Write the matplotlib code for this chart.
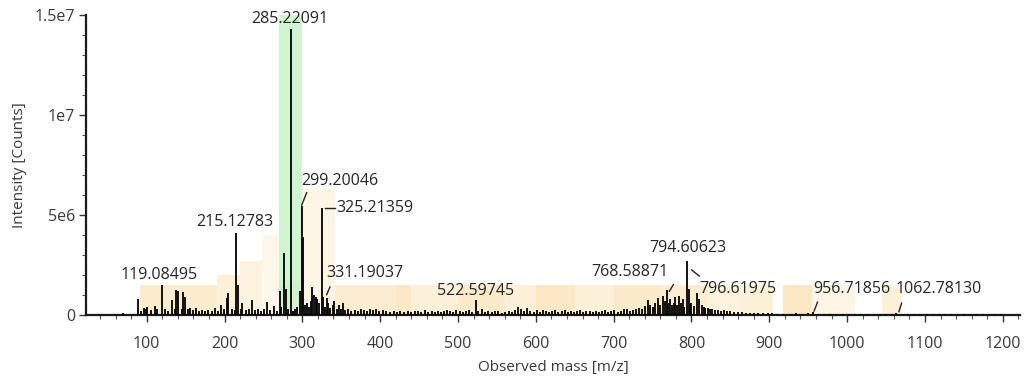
import numpy as np
import matplotlib.pyplot as plt
from matplotlib.ticker import MultipleLocator, FixedLocator

plt.rcParams['font.family'] = ['Open Sans', 'DejaVu Sans']

# stick spectrum (m/z, intensity in 1e6 counts)
peak_mz = [70, 89, 93, 96, 99, 101, 105, 110, 113, 119.08, 123, 127, 132, 136, 138, 140,
           145, 147, 149, 153, 155, 159, 163, 167, 171, 175, 179, 184, 188, 191, 196, 199,
           203, 205, 209, 213, 215.13, 217.5, 221, 223, 227, 231, 235, 239, 243, 247, 251,
           254, 258, 263, 267, 271, 273, 277, 279, 282, 285.22, 288, 291, 293, 297, 299.2,
           301, 303, 306, 309, 311, 313, 315, 317, 319, 322, 325.21, 327, 329, 331.19, 333,
           336, 339, 341, 344, 347, 350, 352, 355, 359, 363, 367, 371, 375, 379, 383, 387,
           391, 395, 399, 403, 408, 413, 418, 422, 426, 431, 436, 440, 445, 449, 453, 457,
           461, 466, 470, 474, 478, 482, 486, 490, 494, 498, 502, 506, 510, 514, 518, 522.6,
           526, 531, 535, 539, 544, 548, 552, 556, 560, 565, 569, 573, 577, 581, 585, 589,
           593, 597, 601, 605, 609, 613, 617, 621, 625, 629, 633, 637, 641, 645, 649, 653,
           657, 661, 665, 669, 673, 677, 681, 685, 689, 693, 697, 701, 705, 709, 713, 717,
           721, 725, 729, 733, 737, 740, 744, 747, 750, 753, 757, 760, 763, 766, 768.59, 770,
           772, 775, 777, 779, 781, 784, 786, 789, 791, 794.61, 796.62, 798, 800, 803, 807,
           810, 813, 816, 818, 821, 824, 827, 830, 834, 838, 842, 846, 850, 855, 860, 865,
           870, 875, 880, 886, 892, 898, 904, 910, 918, 926, 934, 942, 950, 956.72, 962, 970,
           978, 986, 994, 1002, 1010, 1018, 1026, 1034, 1042, 1050, 1058, 1062.78, 1070, 1078,
           1086, 1094, 1102, 1110, 1118, 1126, 1134, 1142, 1150, 1158, 1166, 1174, 1182, 1190,
           1198]
peak_int = [0.1, 0.8, 0.2, 0.35, 0.3, 0.4, 0.25, 0.45, 0.3, 1.5, 0.3, 0.2, 0.75, 0.3, 1.25, 1.2,
            0.3, 1.15, 0.9, 0.3, 0.35, 0.25, 0.35, 0.2, 0.25, 0.2, 0.25, 0.2, 0.35, 0.2, 0.5, 0.3,
            0.85, 1.1, 0.3, 0.25, 4.1, 1.5, 0.3, 0.6, 0.25, 0.3, 0.75, 0.25, 0.3, 0.2, 0.3,
            0.65, 0.25, 0.45, 0.2, 1.2, 0.4, 3.1, 1.3, 0.3, 14.3, 0.2, 0.3, 0.4, 1.2, 5.46,
            3.9, 0.5, 0.6, 0.4, 0.7, 1.4, 1.0, 0.9, 0.8, 0.6, 5.36, 0.9, 0.4, 0.85, 0.6,
            0.35, 0.5, 0.7, 0.3, 0.5, 0.3, 0.6, 0.25, 0.3, 0.2, 0.25, 0.2, 0.3, 0.25, 0.2, 0.3,
            0.25, 0.3, 0.2, 0.25, 0.2, 0.15, 0.2, 0.15, 0.2, 0.15, 0.2, 0.15, 0.2, 0.2, 0.15, 0.25,
            0.15, 0.2, 0.15, 0.2, 0.15, 0.2, 0.25, 0.2, 0.15, 0.25, 0.2, 0.15, 0.2, 0.25, 0.15, 0.75,
            0.2, 0.3, 0.15, 0.2, 0.15, 0.2, 0.2, 0.1, 0.15, 0.2, 0.15, 0.25, 0.4, 0.3, 0.2, 0.35,
            0.2, 0.15, 0.25, 0.15, 0.25, 0.2, 0.15, 0.2, 0.25, 0.15, 0.2, 0.25, 0.15, 0.2, 0.15, 0.2,
            0.25, 0.15, 0.2, 0.2, 0.15, 0.2, 0.15, 0.2, 0.25, 0.15, 0.2, 0.25, 0.15, 0.2, 0.3, 0.3,
            0.2, 0.25, 0.3, 0.35, 0.3, 0.45, 0.75, 0.5, 0.4, 0.6, 0.85, 0.5, 0.95, 0.7, 1.27, 0.6,
            0.8, 0.5, 0.6, 0.9, 0.5, 0.93, 0.6, 0.8, 0.4, 2.72, 1.3, 0.5, 0.6, 0.45, 1.1,
            0.8, 0.5, 0.4, 0.35, 0.35, 0.3, 0.3, 0.25, 0.25, 0.2, 0.25, 0.2, 0.2, 0.15, 0.15, 0.15,
            0.12, 0.12, 0.1, 0.12, 0.08, 0.1, 0.08, 0.06, 0.06, 0.05, 0.08, 0.06, 0.08, 0.15, 0.06, 0.05,
            0.06, 0.05, 0.06, 0.05, 0.05, 0.05, 0.06, 0.05, 0.05, 0.06, 0.05, 0.08, 0.05, 0.06,
            0.05, 0.05, 0.06, 0.05, 0.05, 0.06, 0.05, 0.05, 0.06, 0.05, 0.05, 0.06, 0.05, 0.04,
            0.04]

# orange background bands (m/z from, m/z to, height in 1e6, opacity)
bg_lo = [92, 190, 220, 248, 270, 300, 342, 420, 440, 500, 560, 600, 650, 700, 760, 820, 860, 918, 955, 1045]
bg_hi = [190, 220, 248, 270, 300, 342, 420, 440, 500, 560, 600, 650, 700, 760, 820, 860, 905, 955, 1010, 1070]
bg_h = [1.5, 2.0, 2.7, 4.0, 1.5, 6.3, 1.5, 1.5, 1.5, 1.5, 1.5, 1.5, 1.5, 1.5, 1.5, 1.5, 1.5, 1.5, 1.5, 1.5]
bg_a = [0.3, 0.24, 0.2, 0.12, 0.25, 0.16, 0.28, 0.36, 0.24, 0.32, 0.24, 0.36, 0.24, 0.32, 0.28, 0.2, 0.24, 0.36, 0.16, 0.24]

# highlighted window
hl_lo, hl_hi = 270, 299

# labels: text, text x, text y (1e6), alignment, leader from (x, y) to (x, y) or None
lab_txt = ['119.08495', '215.12783', '285.22091', '299.20046', '325.21359', '331.19037',
           '522.59745', '768.58871', '794.60623', '796.61975', '956.71856', '1062.78130']
lab_x = [116.3, 212.7, 283.4, 299.0, 343.3, 331.2, 522.7, 770.0, 795.0, 809.6, 956.0, 1062.0]
lab_y = [1.99, 4.64, 14.8, 6.68, 5.36, 2.09, 1.22, 2.14, 3.37, 1.28, 1.28, 1.28]
lab_ha = ['center', 'center', 'center', 'left', 'left', 'left',
          'center', 'right', 'center', 'left', 'left', 'left']
lead = [None, None, None,
        ((299.2, 5.5), (305.5, 6.12)),
        ((329.0, 5.36), (341.5, 5.36)),
        ((331.2, 1.02), (335.5, 1.41)),
        None,
        ((771.6, 1.19), (776.8, 1.53)),
        None,
        ((800.2, 2.26), (810.0, 1.95)),
        ((957.5, 0.2), (962.0, 0.65)),
        ((1066.5, 0.17), (1070.0, 0.6))]

fig = plt.figure(figsize=(10.24, 3.76), dpi=100)
ax = fig.add_axes([0.084, 0.162, 0.912, 0.798])

for lo, hi, h, a in zip(bg_lo, bg_hi, bg_h, bg_a):
    ax.bar(lo, h * 1e6, width=hi - lo, align='edge', color='#f7c15e', alpha=a, lw=0, zorder=1)
ax.axvspan(hl_lo, hl_hi, color='#c9f3c9', alpha=0.85, lw=0, zorder=1)

ax.vlines(peak_mz, 0, np.array(peak_int) * 1e6, color='black', lw=1.3, zorder=3)

for t, x, y, ha, ld in zip(lab_txt, lab_x, lab_y, lab_ha, lead):
    ax.text(x, y * 1e6, t, ha=ha, va='center', fontsize=11.5, color='#262626', zorder=4)
    if ld is not None:
        ax.plot([ld[0][0], ld[1][0]], [ld[0][1] * 1e6, ld[1][1] * 1e6], color='#262626', lw=1, zorder=4)

ax.set_xlim(22, 1222)
ax.set_ylim(0, 1.5e7)
ax.xaxis.set_major_locator(MultipleLocator(100))
ax.xaxis.set_minor_locator(MultipleLocator(20))
ax.yaxis.set_major_locator(FixedLocator([0, 5e6, 1e7, 1.5e7]))
ax.yaxis.set_minor_locator(MultipleLocator(1e6))
ax.set_yticklabels(['0', '5e6', '1e7', '1.5e7'])
ax.set_xticks(range(100, 1201, 100))
ax.set_xticklabels([str(v) for v in range(100, 1201, 100)])

for s in ['top', 'right']:
    ax.spines[s].set_visible(False)
for s in ['left', 'bottom']:
    ax.spines[s].set_linewidth(1.6)
    ax.spines[s].set_color('#1a1a1a')
ax.tick_params(which='major', length=5, width=1, color='#333333', labelsize=11.5, labelcolor='#3a3a3a')
ax.tick_params(axis='x', which='major', pad=10)
ax.tick_params(axis='y', which='major', pad=3)
ax.tick_params(which='minor', length=3, width=0.8, color='#555555')

ax.set_xlabel('Observed mass [m/z]', fontsize=11, color='#3a3a3a', labelpad=6)
ax.set_ylabel('Intensity [Counts]', fontsize=11, color='#3a3a3a', labelpad=5)

fig.savefig('out.png', dpi=100)
